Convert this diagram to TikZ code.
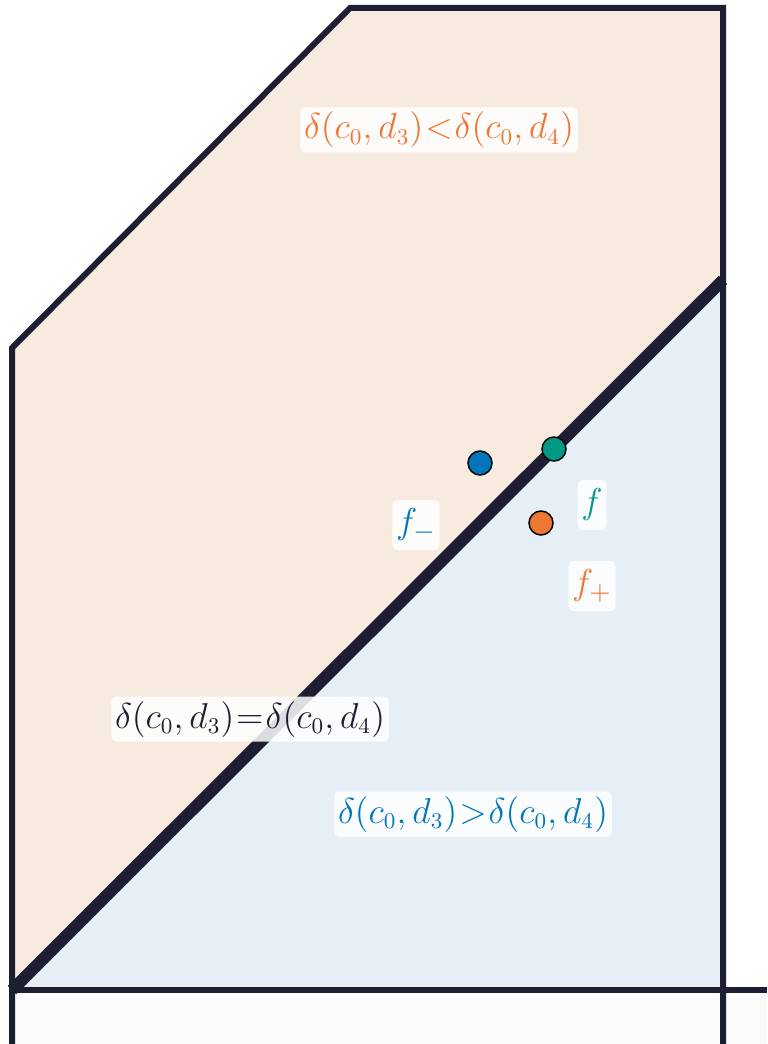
\documentclass[tikz,border=0pt]{standalone}
\usepackage{amsmath, amssymb}

\definecolor{regionup}{HTML}{F7EBE0}
\definecolor{regiondown}{HTML}{E6EEF6}
\definecolor{regionout}{HTML}{FAFAFA}
\definecolor{edgeink}{HTML}{1E1E32}
\definecolor{tolorange}{HTML}{EE7733}
\definecolor{tolblue}{HTML}{0077BB}
\definecolor{tolteal}{HTML}{009988}

\tikzset{
  border/.style={line width=2.4pt, draw=edgeink, line join=miter},
  tag/.style={fill=white, fill opacity=0.85, text opacity=1, rounded corners=2pt,
    inner xsep=1.5pt, inner ysep=1.8pt, font=\fontsize{13.5}{16}\selectfont},
  ftag/.style={tag, minimum height=20pt, minimum width=10pt, inner xsep=1.5pt,
    font=\fontsize{15}{18}\selectfont},
  dot/.style={circle, draw=black, line width=0.6pt, minimum size=9.6pt, inner sep=0pt}
}

\begin{document}
\thickmuskip=1mu
\begin{tikzpicture}[x=0.4pt, y=-0.4pt]
		\useasboundingbox (0,0) rectangle (767,1044);
		
		% Corner points of the picture
		\coordinate (base) at (12,990);
		\coordinate (top) at (723,280);
		
		% Fill the three regions
		\fill[regionout] (12,990) rectangle (767,1044);
		\fill[regionup] (12,990) -- (12,348) -- (350,8) -- (723,8) -- (top) -- cycle;
		\fill[regiondown] (base) -- (top) -- (723,990) -- cycle;
		
		% Outline of the domain
		\draw[border] (12,1044) -- (12,348) -- (350,8) -- (723,8) -- (723,1044);
		\draw[border] (base) -- (767,990);
		
		% The boundary where both distances agree
		\draw[line width=4.8pt, draw=edgeink] (base) -- (top);
		
		% Region labels
		\node[tag, text=tolorange] (less) at (439,130) {$\delta(c_0,d_3)<\delta(c_0,d_4)$};
		\node[tag, text=edgeink] (equal) at (250,719) {$\delta(c_0,d_3)=\delta(c_0,d_4)$};
		\node[tag, text=tolblue] (greater) at (473,814) {$\delta(c_0,d_3)>\delta(c_0,d_4)$};
		
		% The function and its two neighbours
		\node[dot, fill=tolblue] (fminus) at (480,463) {};
		\node[dot, fill=tolteal] (fmid) at (554,449) {};
		\node[dot, fill=tolorange] (fplus) at (541,523) {};
		
		\node[ftag, text=tolblue] (fminuslabel) at (416,525) {$f_-$};
		\node[ftag, text=tolteal] (fmidlabel) at (592,505) {$f$};
		\node[ftag, text=tolorange] (fpluslabel) at (592,586) {$f_+$};
		
	\end{tikzpicture}
\end{document}
